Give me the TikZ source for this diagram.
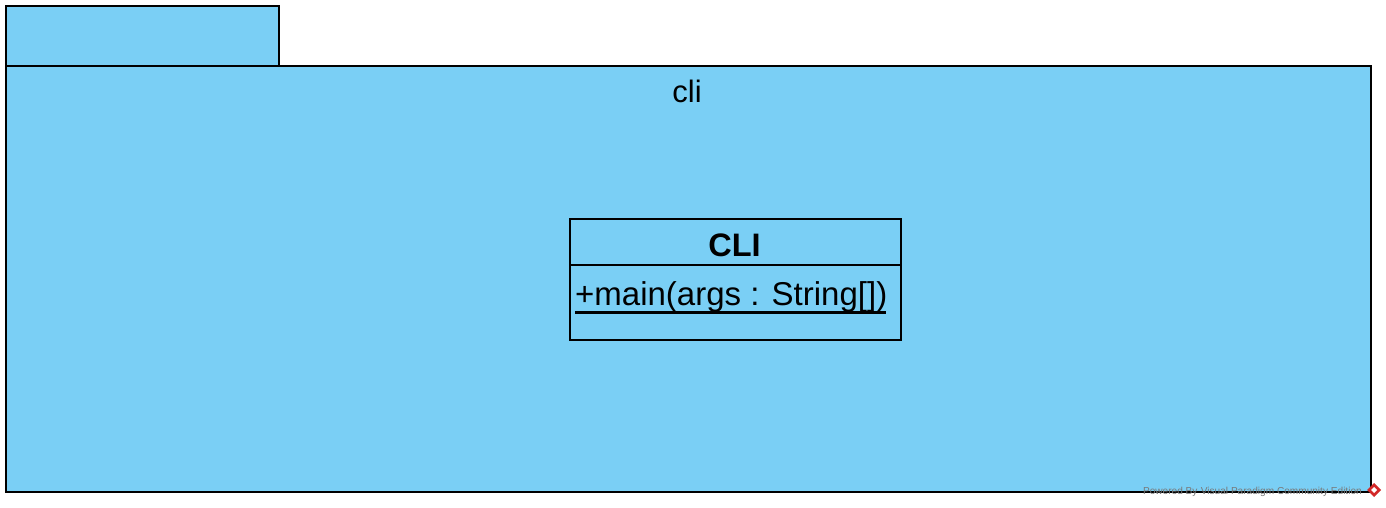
\documentclass[tikz,border=0pt]{standalone}
\usepackage{fontspec}
\setmainfont{Liberation Sans}
\definecolor{pkgblue}{RGB}{122,207,245}
\definecolor{wmgray}{RGB}{120,120,120}
\definecolor{vpred}{RGB}{210,40,40}
\tikzset{
  pkgshape/.style={draw=black, fill=pkgblue, line width=2.8pt},
  classbox/.style={draw=black, fill=pkgblue, line width=2.8pt},
  sepline/.style={draw=black, line width=2.8pt},
  bigtext/.style={inner sep=0pt, font=\fontsize{31}{35}\selectfont},
  classtext/.style={inner sep=0pt, font=\fontsize{33}{37}\selectfont},
  wmtext/.style={inner sep=0pt, text=wmgray, font=\fontsize{10.1}{12}\selectfont}
}
\begin{document}
\begin{tikzpicture}[x=1pt,y=-1pt]
\useasboundingbox (0,0) rectangle (1386,507);
% package tab and body
\path[pkgshape] (6,6) rectangle (279,66);
\path[pkgshape] (6,66) rectangle (1371,492);
\node[bigtext, anchor=base] (pkgname) at (687,102) {cli};
% class box
\path[classbox] (570,219) rectangle (901,340);
\coordinate (sepL) at (570,265);
\coordinate (sepR) at (901,265);
\draw[sepline] (sepL) -- (sepR);
\node[classtext, anchor=base, font=\fontsize{32.5}{36}\selectfont\bfseries] (clsname) at (734.5,256) {CLI};
\node[classtext, anchor=base west] (op) at (575,305) {+main(args : String[])};
\coordinate (ulL) at (575,312.5);
\coordinate (ulR) at (886,312.5);
\draw[sepline] (ulL) -- (ulR);
% watermark
\node[wmtext, anchor=base east] (wm) at (1362,494.5) {Powered By\,\,Visual Paradigm Community Edition};
\path[fill=vpred] (1374,483) -- (1381,490) -- (1374,497) -- (1367,490) -- cycle;
\path[fill=white] (1374,487) -- (1377,490) -- (1374,493) -- (1371,490) -- cycle;
\end{tikzpicture}
\end{document}
